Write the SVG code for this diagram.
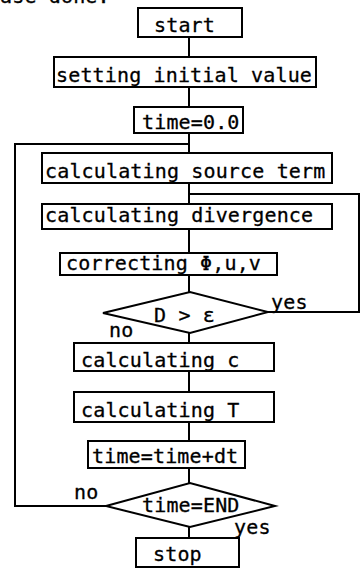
<svg xmlns="http://www.w3.org/2000/svg" width="361" height="569" viewBox="0 0 361 569">
<style>
.b{fill:#fff;stroke:#000;stroke-width:2}
.c{fill:none;stroke:#000;stroke-width:2}
text{font-family:"DejaVu Sans Mono","Liberation Mono",monospace;font-size:20px;letter-spacing:0.15px;fill:#000;stroke:#000;stroke-width:0.3}
</style>
<rect width="361" height="569" fill="#fff"/>
<text x="0" y="3">ase done.</text>
<g id="connectors">
<path class="c" d="M189,37V57M189,87V107M189,133V153M189,183V204M189,229V253M189,275V292M189,333V343M189,371V392M189,422V441M189,468V483M189,527V538"/>
<polyline class="c" points="268,312 359,312 359,194 189,194"/>
<polyline class="c" points="106,506 15,506 15,144 189,144"/>
</g>
<g id="start"><rect class="b" x="138" y="8" width="104" height="29"/><text x="154" y="32">start</text></g>
<g id="init"><rect class="b" x="54" y="57" width="262" height="30"/><text x="56" y="82">setting initial value</text></g>
<g id="time0"><rect class="b" x="134" y="107" width="109" height="26"/><text x="142" y="129">time=0.0</text></g>
<g id="source"><rect class="b" x="42" y="153" width="290" height="30"/><text x="45" y="178">calculating source term</text></g>
<g id="divergence"><rect class="b" x="42" y="204" width="290" height="25"/><text x="45" y="222">calculating divergence</text></g>
<g id="correct"><rect class="b" x="60" y="253" width="217" height="22"/><text x="66" y="270">correcting Φ,u,v</text></g>
<g id="check1"><polygon class="b" points="103,313 190,292 268,312 190,333"/><text x="154" y="322">D &gt; ε</text><text x="271" y="309">yes</text><text x="109" y="337">no</text></g>
<g id="calcc"><rect class="b" x="74" y="343" width="200" height="28"/><text x="81" y="367">calculating c</text></g>
<g id="calcT"><rect class="b" x="74" y="392" width="200" height="30"/><text x="81" y="417">calculating T</text></g>
<g id="timestep"><rect class="b" x="88" y="441" width="157" height="27"/><text x="92" y="463">time=time+dt</text></g>
<g id="check2"><polygon class="b" points="106,506 190,483 275,506 190,527"/><text x="142" y="512">time=END</text><text x="74" y="499">no</text><text x="234" y="534">yes</text></g>
<g id="stop"><rect class="b" x="136" y="538" width="103" height="29"/><text x="153" y="561">stop</text></g>
</svg>
